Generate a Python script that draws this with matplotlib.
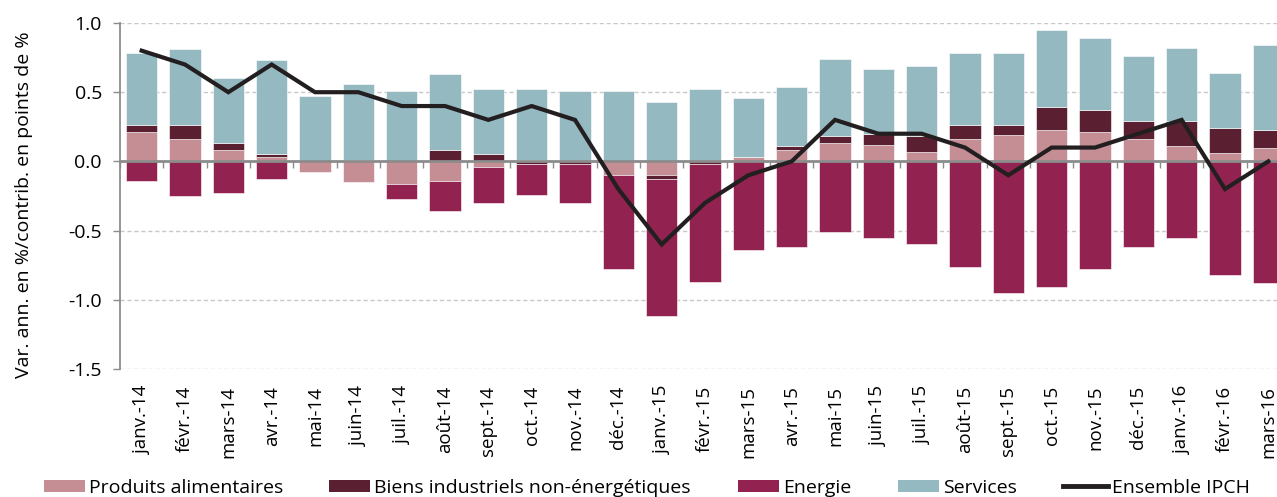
import matplotlib
matplotlib.use("Agg")
import matplotlib.pyplot as plt
from matplotlib.lines import Line2D
from matplotlib.patches import Patch
import numpy as np

mois = ["janv.-14", "févr.-14", "mars-14", "avr.-14", "mai-14", "juin-14", "juil.-14",
        "août-14", "sept.-14", "oct.-14", "nov.-14", "déc.-14", "janv.-15", "févr.-15",
        "mars-15", "avr.-15", "mai-15", "juin-15", "juil.-15", "août-15", "sept.-15",
        "oct.-15", "nov.-15", "déc.-15", "janv.-16", "févr.-16", "mars-16"]

alimentaires = [0.21, 0.16, 0.08, 0.03, -0.08, -0.15, -0.16, -0.14, -0.04, 0.01, 0.00, -0.10,
                -0.10, 0.00, 0.03, 0.08, 0.13, 0.12, 0.07, 0.16, 0.19, 0.23, 0.21, 0.16,
                0.11, 0.06, 0.10]
biens = [0.05, 0.10, 0.05, 0.02, 0.00, 0.01, 0.00, 0.08, 0.05, -0.02, -0.02, 0.00,
         -0.03, -0.02, 0.00, 0.03, 0.05, 0.08, 0.11, 0.10, 0.07, 0.16, 0.16, 0.13,
         0.18, 0.18, 0.13]
energie = [-0.14, -0.25, -0.23, -0.13, 0.00, 0.00, -0.11, -0.22, -0.26, -0.22, -0.28, -0.68,
           -0.99, -0.85, -0.64, -0.62, -0.51, -0.55, -0.60, -0.76, -0.95, -0.91, -0.78, -0.62,
           -0.55, -0.82, -0.88]
services = [0.52, 0.55, 0.47, 0.68, 0.47, 0.55, 0.51, 0.55, 0.47, 0.51, 0.51, 0.51,
            0.43, 0.52, 0.43, 0.43, 0.56, 0.47, 0.51, 0.52, 0.52, 0.56, 0.52, 0.47,
            0.53, 0.40, 0.61]
ipch = [0.8, 0.7, 0.5, 0.7, 0.5, 0.5, 0.4, 0.4, 0.3, 0.4, 0.3, -0.2, -0.6, -0.3,
        -0.1, 0.0, 0.3, 0.2, 0.2, 0.1, -0.1, 0.1, 0.1, 0.2, 0.3, -0.2, 0.0]

series = [("Produits alimentaires", alimentaires, "#c48e94"),
          ("Biens industriels non-énergétiques", biens, "#5a2031"),
          ("Energie", energie, "#922350"),
          ("Services", services, "#95b9c1")]

plt.rcParams["font.family"] = ["Open Sans", "DejaVu Sans"]
GRIS = "#8c8c8c"
W, H = 1277, 497

fig = plt.figure(figsize=(W / 100, H / 100), dpi=100)
ax = fig.add_axes([120 / W, 1 - 369 / H, 1170 / W, 346 / H])

x = np.arange(len(mois))
pos = np.zeros(len(mois))
neg = np.zeros(len(mois))
for nom, vals, c in series:
    v = np.array(vals)
    bas = np.where(v >= 0, pos, neg)
    ax.bar(x, v, bottom=bas, width=0.73, color=c, edgecolor="white", linewidth=0.4, zorder=2)
    pos += np.where(v >= 0, v, 0)
    neg += np.where(v < 0, v, 0)

ax.plot(x, ipch, color="#231f20", linewidth=3, zorder=4, solid_joinstyle="miter")

ax.set_xlim(-0.5, len(mois) - 0.5)
ax.set_ylim(-1.5, 1.0)
yt = np.arange(-1.5, 1.01, 0.5)
ax.set_yticks(yt)
ax.set_yticklabels([f"{t:.1f}" for t in yt])
ax.yaxis.grid(True, linestyle=(0, (3, 2)), color="#c8c8c8", linewidth=1, zorder=0)
ax.set_axisbelow(True)
ax.tick_params(axis="y", labelsize=14, length=5, color=GRIS, pad=8, width=1)

ax.set_xticks(x)
ax.set_xticklabels(mois, rotation=90, fontsize=13.5)
ax.tick_params(axis="x", length=0, pad=12)

for s in ["top", "right", "bottom"]:
    ax.spines[s].set_visible(False)
ax.spines["left"].set_color(GRIS)
ax.spines["left"].set_linewidth(1.3)

# ligne du zéro avec graduations entre les mois
zero = ax.secondary_xaxis(0, transform=ax.transData)
zero.set_xticks(np.arange(-0.5, len(mois), 1.0))
zero.set_xticklabels([])
zero.tick_params(direction="out", length=5, color=GRIS, width=1)
zero.spines["bottom"].set_color(GRIS)
zero.spines["bottom"].set_linewidth(2)
zero.set_zorder(3)

ax.set_ylabel("Var. ann. en %/contrib. en points de %", fontsize=14)
ax.yaxis.set_label_coords(-0.074, 0.474)

# légende : une entrée par position, comme dans l'original
handles = [Patch(facecolor=c, label=nom) for nom, _, c in series]
handles.append(Line2D([], [], color="#231f20", linewidth=3.5, label="Ensemble IPCH"))
x_leg = [44, 329, 738, 898, 1063]
for h, xl in zip(handles, x_leg):
    long = 2.3 if isinstance(h, Line2D) else 2.1
    fig.legend(handles=[h], loc="center left", bbox_to_anchor=(xl / W, 1 - 488 / H),
               frameon=False, borderpad=0, borderaxespad=0,
               handlelength=long, handleheight=0.62, handletextpad=0.2,
               prop={"family": ["Open Sans", "DejaVu Sans"], "size": 14})

fig.savefig("out.png", dpi=100)
